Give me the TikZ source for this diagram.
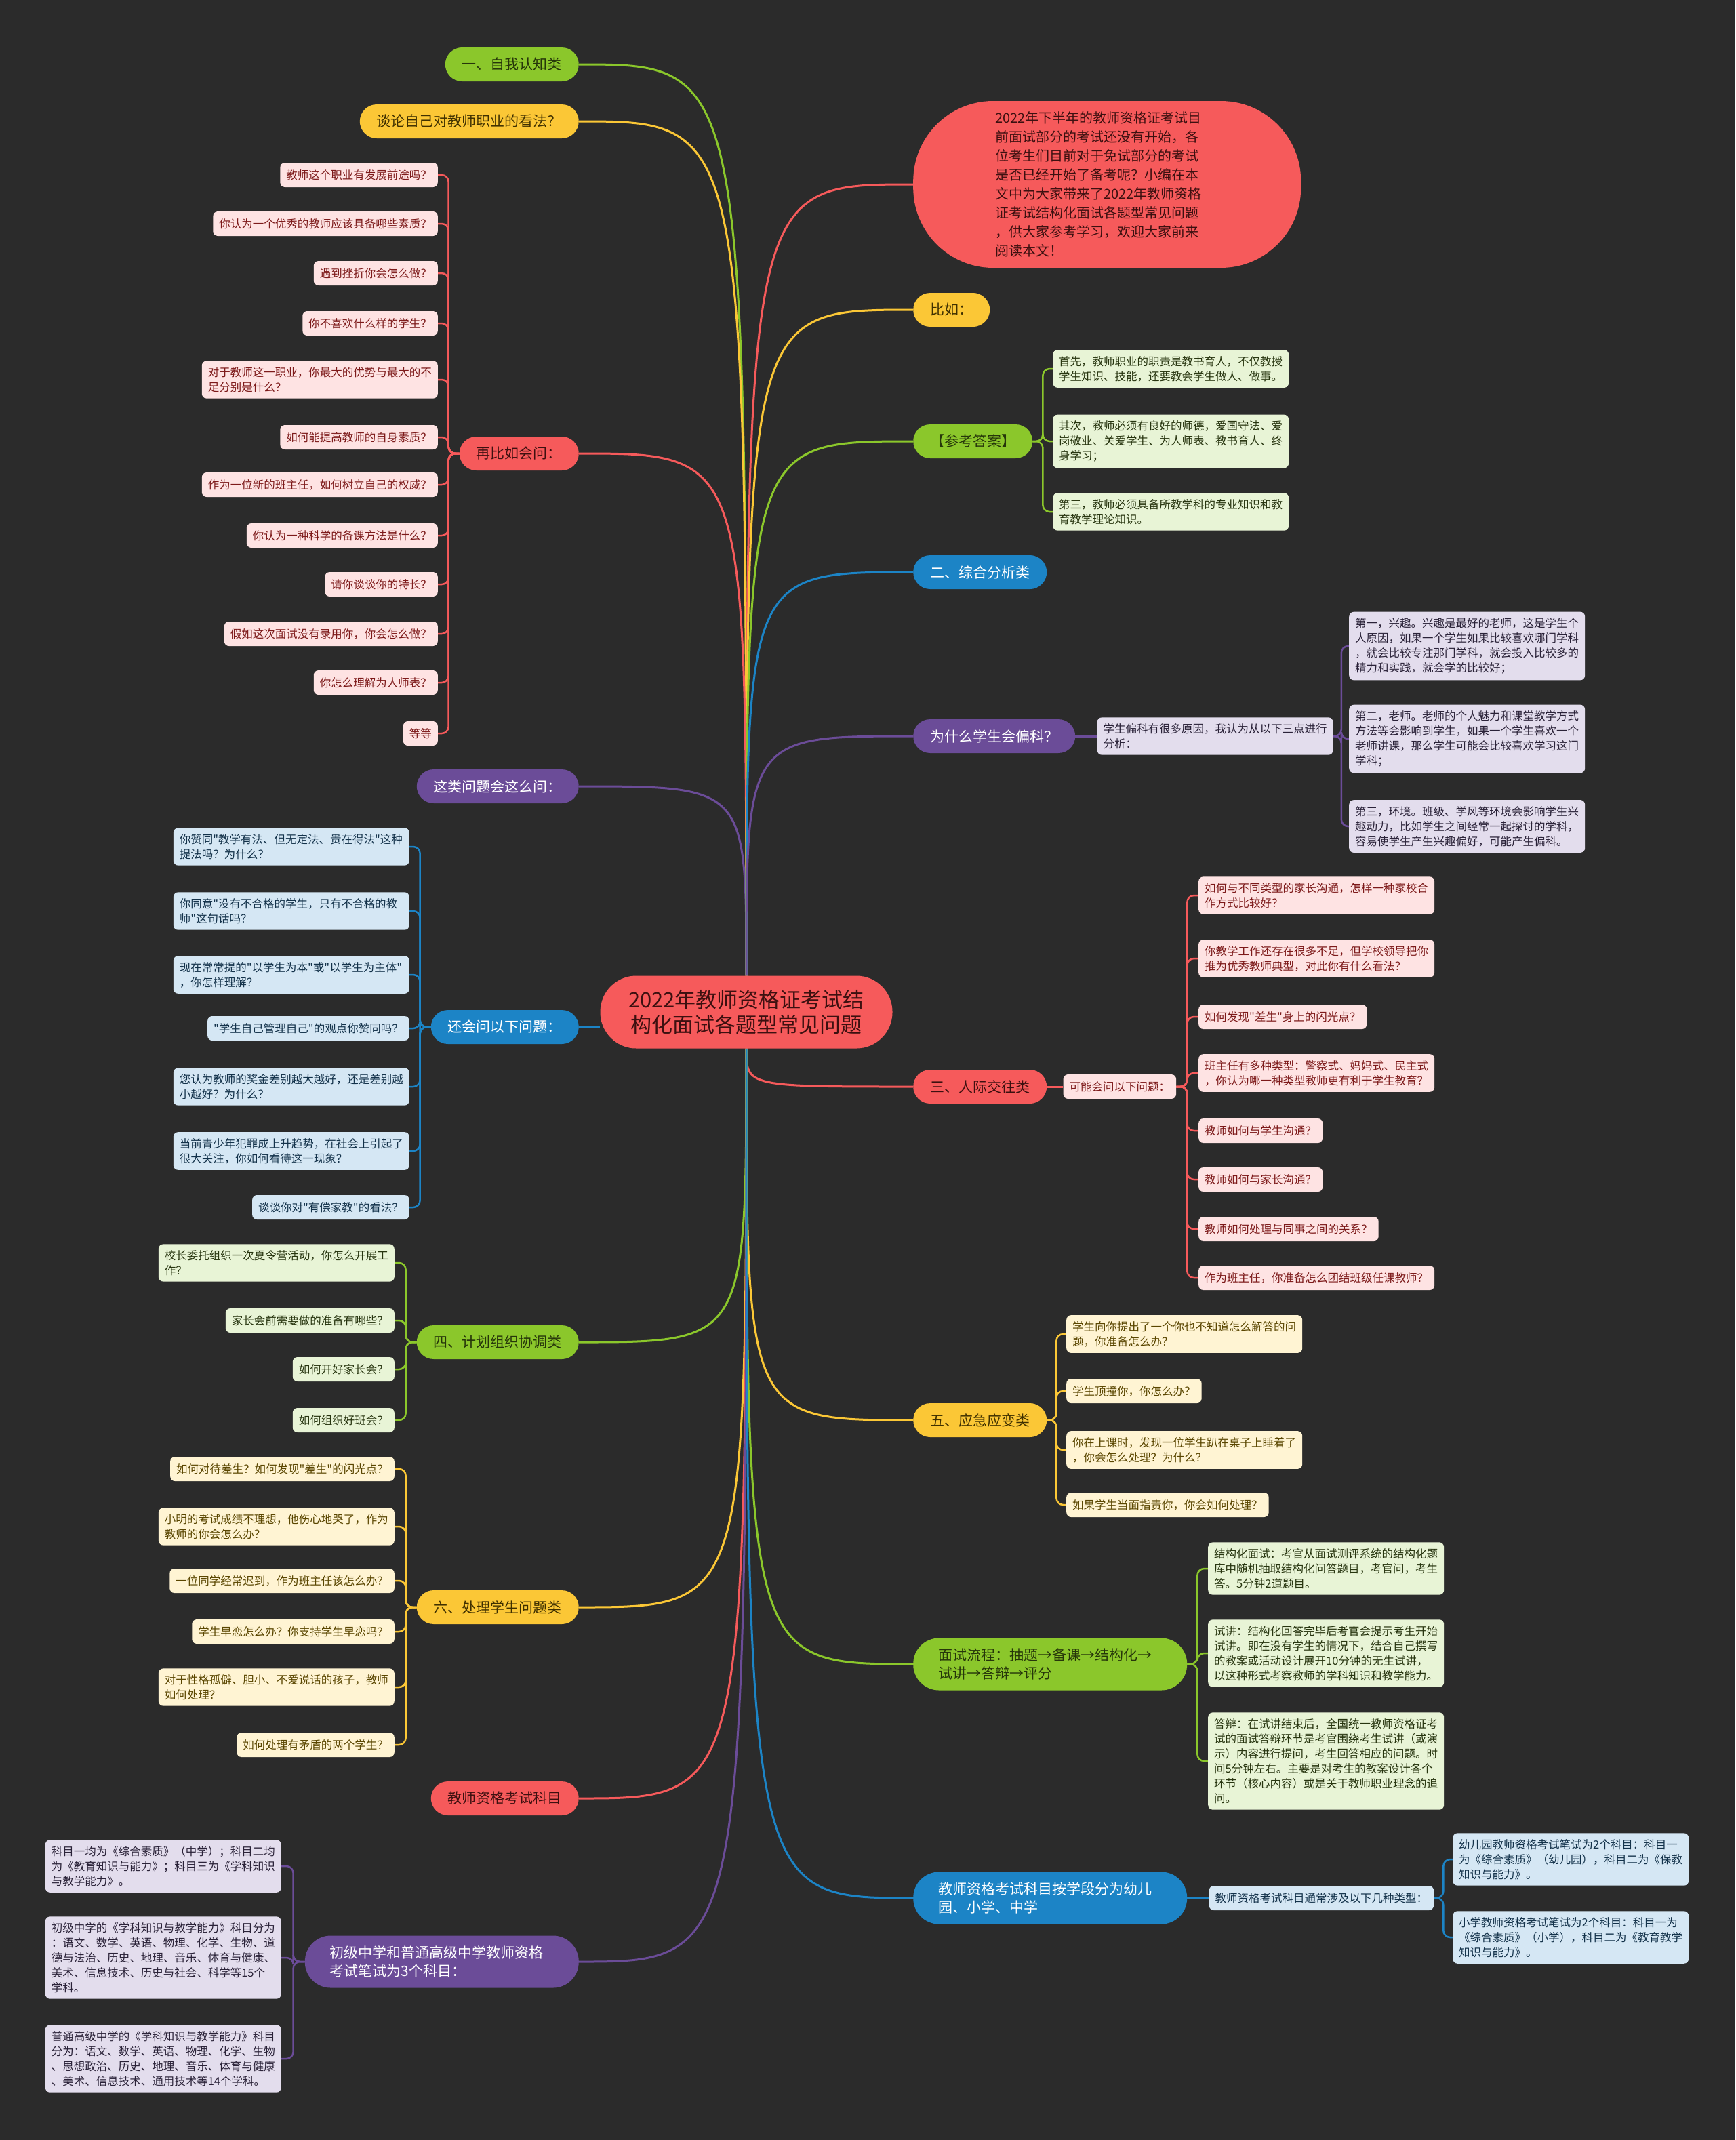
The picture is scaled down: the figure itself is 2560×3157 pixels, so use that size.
\documentclass[tikz,border=0pt]{standalone}
\usepackage{fontspec}
\setmainfont{Noto Sans CJK SC}
\newfontfamily\qfont{Noto Sans CJK SC}
\newcommand\dq{{\qfont"}}
\usetikzlibrary{positioning}

\definecolor{bgc}{HTML}{2B2B2B}
\definecolor{redc}{HTML}{F65A5B}
\definecolor{yellowc}{HTML}{FBC736}
\definecolor{greenc}{HTML}{8BC72B}
\definecolor{bluec}{HTML}{1C84C6}
\definecolor{purplec}{HTML}{6B4C98}
\definecolor{redfg}{HTML}{3D1010}
\definecolor{yellowfg}{HTML}{3F3000}
\definecolor{greenfg}{HTML}{26360A}
\definecolor{pinkbg}{HTML}{FEE3E3}
\definecolor{pinkfg}{HTML}{7D1A1A}
\definecolor{skybg}{HTML}{D5E7F4}
\definecolor{skyfg}{HTML}{13324A}
\definecolor{mintbg}{HTML}{E8F4D6}
\definecolor{mintfg}{HTML}{27350F}
\definecolor{creambg}{HTML}{FFF4D3}
\definecolor{creamfg}{HTML}{5A4600}
\definecolor{lilacbg}{HTML}{E3DDED}
\definecolor{lilacfg}{HTML}{2A2238}

\newcommand\leaffont{\fontsize{16.5pt}{22pt}\selectfont}
\newcommand\branchfont{\fontsize{21pt}{27pt}\selectfont}
\newcommand\notefont{\fontsize{20pt}{28pt}\selectfont}
\newcommand\rootfont{\fontsize{31pt}{37pt}\selectfont}

\pgfdeclarelayer{bg}
\pgfdeclarelayer{links}
\pgfsetlayers{bg,links,main}

\tikzstyle{rootnode} = [rectangle, rounded corners=53pt, fill=redc, text=redfg, minimum width=431pt, minimum height=107pt, align=center, font=\rootfont]
\tikzstyle{note} = [rectangle, rounded corners=118pt, fill=redc, text=redfg, text width=330pt, align=left, inner xsep=121pt, minimum height=246pt, font=\notefont]
\tikzstyle{branch} = [rectangle, rounded corners=25pt, minimum height=50pt, inner xsep=25pt, inner ysep=8pt, font=\branchfont]
\tikzstyle{branch2} = [branch, rounded corners=38pt, minimum height=77pt, inner xsep=37pt, text width=330pt, align=left]
\tikzstyle{greenb} = [fill=greenc, text=greenfg]
\tikzstyle{yellowb} = [fill=yellowc, text=yellowfg]
\tikzstyle{redb} = [fill=redc, text=redfg]
\tikzstyle{blueb} = [fill=bluec, text=white]
\tikzstyle{purpleb} = [fill=purplec, text=white]
\tikzstyle{leaf} = [rectangle, rounded corners=7pt, inner xsep=9pt, inner ysep=9pt, minimum height=36pt, align=left, font=\leaffont]
\tikzstyle{wideleaf} = [text width=330pt]
\tikzstyle{pinkleaf} = [leaf, fill=pinkbg, text=pinkfg]
\tikzstyle{skyleaf} = [leaf, fill=skybg, text=skyfg]
\tikzstyle{mintleaf} = [leaf, fill=mintbg, text=mintfg]
\tikzstyle{creamleaf} = [leaf, fill=creambg, text=creamfg]
\tikzstyle{lilacleaf} = [leaf, fill=lilacbg, text=lilacfg]
\tikzstyle{link} = [draw, line width=3pt]
\tikzstyle{twig} = [draw, line width=2.5pt, rounded corners=10pt]

\begin{document}
\begin{tikzpicture}[x=1pt, y=-1pt]
    \useasboundingbox (0,0) rectangle (2560,3157);
    \begin{pgfonlayer}{bg}
        \fill[bgc] (0,0) rectangle (2560,3157);
    \end{pgfonlayer}

    % Place nodes
    \node [rootnode] (title) at (1101,1493) {2022年教师资格证考试结\\构化面试各题型常见问题};

    % left side
    \node [branch, greenb, anchor=east] (selfcog) at (854,95) {一、自我认知类};
    \node [branch, yellowb, anchor=east] (view) at (854,179) {谈论自己对教师职业的看法？};
    \node [branch, redb, anchor=east] (more) at (854,669) {再比如会问：};
    \node [pinkleaf, anchor=east] (more_1) at (646,258) {教师这个职业有发展前途吗？};
    \node [pinkleaf, anchor=east] (more_2) at (646,330) {你认为一个优秀的教师应该具备哪些素质？};
    \node [pinkleaf, anchor=east] (more_3) at (646,403) {遇到挫折你会怎么做？};
    \node [pinkleaf, anchor=east] (more_4) at (646,477) {你不喜欢什么样的学生？};
    \node [pinkleaf, wideleaf, anchor=east] (more_5) at (646,560) {对于教师这一职业，你最大的优势与最大的不\\足分别是什么？};
    \node [pinkleaf, anchor=east] (more_6) at (646,645) {如何能提高教师的自身素质？};
    \node [pinkleaf, anchor=east] (more_7) at (646,715) {作为一位新的班主任，如何树立自己的权威？};
    \node [pinkleaf, anchor=east] (more_8) at (646,790) {你认为一种科学的备课方法是什么？};
    \node [pinkleaf, anchor=east] (more_9) at (646,862) {请你谈谈你的特长？};
    \node [pinkleaf, anchor=east] (more_10) at (646,935) {假如这次面试没有录用你，你会怎么做？};
    \node [pinkleaf, anchor=east] (more_11) at (646,1007) {你怎么理解为人师表？};
    \node [pinkleaf, anchor=east] (more_12) at (646,1082) {等等};

    \node [branch, purpleb, anchor=east] (ask) at (854,1160) {这类问题会这么问：};
    \node [branch, blueb, anchor=east] (follow) at (854,1515) {还会问以下问题：};
    \node [skyleaf, wideleaf, anchor=east] (follow_1) at (604,1249) {你赞同\dq 教学有法、但无定法、贵在得法\dq 这种\\提法吗？为什么？};
    \node [skyleaf, wideleaf, anchor=east] (follow_2) at (604,1344) {你同意\dq 没有不合格的学生，只有不合格的教\\师\dq 这句话吗？};
    \node [skyleaf, wideleaf, anchor=east] (follow_3) at (604,1438) {现在常常提的\dq 以学生为本\dq 或\dq 以学生为主体\dq\\，你怎样理解？};
    \node [skyleaf, anchor=east] (follow_4) at (604,1517) {\dq 学生自己管理自己\dq 的观点你赞同吗？};
    \node [skyleaf, wideleaf, anchor=east] (follow_5) at (604,1603) {您认为教师的奖金差别越大越好，还是差别越\\小越好？为什么？};
    \node [skyleaf, wideleaf, anchor=east] (follow_6) at (604,1698) {当前青少年犯罪成上升趋势，在社会上引起了\\很大关注，你如何看待这一现象？};
    \node [skyleaf, anchor=east] (follow_7) at (604,1781) {谈谈你对\dq 有偿家教\dq 的看法？};

    \node [branch, greenb, anchor=east] (plan) at (854,1980) {四、计划组织协调类};
    \node [mintleaf, wideleaf, anchor=east] (plan_1) at (582,1863) {校长委托组织一次夏令营活动，你怎么开展工\\作？};
    \node [mintleaf, anchor=east] (plan_2) at (582,1948) {家长会前需要做的准备有哪些？};
    \node [mintleaf, anchor=east] (plan_3) at (582,2020) {如何开好家长会？};
    \node [mintleaf, anchor=east] (plan_4) at (582,2095) {如何组织好班会？};

    \node [branch, yellowb, anchor=east] (handle) at (854,2371) {六、处理学生问题类};
    \node [creamleaf, anchor=east] (handle_1) at (582,2167) {如何对待差生？如何发现\dq 差生\dq 的闪光点？};
    \node [creamleaf, wideleaf, anchor=east] (handle_2) at (582,2252) {小明的考试成绩不理想，他伤心地哭了，作为\\教师的你会怎么办？};
    \node [creamleaf, anchor=east] (handle_3) at (582,2332) {一位同学经常迟到，作为班主任该怎么办？};
    \node [creamleaf, anchor=east] (handle_4) at (582,2407) {学生早恋怎么办？你支持学生早恋吗？};
    \node [creamleaf, wideleaf, anchor=east] (handle_5) at (582,2489) {对于性格孤僻、胆小、不爱说话的孩子，教师\\如何处理？};
    \node [creamleaf, anchor=east] (handle_6) at (582,2574) {如何处理有矛盾的两个学生？};

    \node [branch, redb, anchor=east] (subject) at (854,2653) {教师资格考试科目};
    \node [branch2, purpleb, anchor=east] (middle) at (854,2894) {初级中学和普通高级中学教师资格\\考试笔试为3个科目：};
    \node [lilacleaf, wideleaf, anchor=east] (middle_1) at (415,2753) {科目一均为《综合素质》（中学）；科目二均\\为《教育知识与能力》；科目三为《学科知识\\与教学能力》。};
    \node [lilacleaf, wideleaf, anchor=east] (middle_2) at (415,2888) {初级中学的《学科知识与教学能力》科目分为\\：语文、数学、英语、物理、化学、生物、道\\德与法治、历史、地理、音乐、体育与健康、\\美术、信息技术、历史与社会、科学等15个\\学科。};
    \node [lilacleaf, wideleaf, anchor=east] (middle_3) at (415,3037) {普通高级中学的《学科知识与教学能力》科目\\分为：语文、数学、英语、物理、化学、生物\\、思想政治、历史、地理、音乐、体育与健康\\、美术、信息技术、通用技术等14个学科。};

    % right side
    \node [note, anchor=west] (intro) at (1347,272) {2022年下半年的教师资格证考试目\\前面试部分的考试还没有开始，各\\位考生们目前对于免试部分的考试\\是否已经开始了备考呢？小编在本\\文中为大家带来了2022年教师资格\\证考试结构化面试各题型常见问题\\，供大家参考学习，欢迎大家前来\\阅读本文！};
    \node [branch, yellowb, anchor=west] (like) at (1347,457) {比如：};
    \node [branch, greenb, anchor=west] (answer) at (1347,651) {【参考答案】};
    \node [mintleaf, wideleaf, anchor=west] (answer_1) at (1553,544) {首先，教师职业的职责是教书育人，不仅教授\\学生知识、技能，还要教会学生做人、做事。};
    \node [mintleaf, wideleaf, anchor=west] (answer_2) at (1553,651) {其次，教师必须有良好的师德，爱国守法、爱\\岗敬业、关爱学生、为人师表、教书育人、终\\身学习；};
    \node [mintleaf, wideleaf, anchor=west] (answer_3) at (1553,755) {第三，教师必须具备所教学科的专业知识和教\\育教学理论知识。};

    \node [branch, blueb, anchor=west] (analysis) at (1347,844) {二、综合分析类};
    \node [branch, purpleb, anchor=west] (bias) at (1347,1086) {为什么学生会偏科？};
    \node [lilacleaf, wideleaf, right=32pt of bias] (bias_0) {学生偏科有很多原因，我认为从以下三点进行\\分析：};
    \node [lilacleaf, wideleaf, anchor=west] (bias_1) at (1990,953) {第一，兴趣。兴趣是最好的老师，这是学生个\\人原因，如果一个学生如果比较喜欢哪门学科\\，就会比较专注那门学科，就会投入比较多的\\精力和实践，就会学的比较好；};
    \node [lilacleaf, wideleaf, anchor=west] (bias_2) at (1990,1090) {第二，老师。老师的个人魅力和课堂教学方式\\方法等会影响到学生，如果一个学生喜欢一个\\老师讲课，那么学生可能会比较喜欢学习这门\\学科；};
    \node [lilacleaf, wideleaf, anchor=west] (bias_3) at (1990,1219) {第三，环境。班级、学风等环境会影响学生兴\\趣动力，比如学生之间经常一起探讨的学科，\\容易使学生产生兴趣偏好，可能产生偏科。};

    \node [branch, redb, anchor=west] (social) at (1347,1603) {三、人际交往类};
    \node [pinkleaf, right=24pt of social] (social_0) {可能会问以下问题：};
    \node [pinkleaf, wideleaf, anchor=west] (social_1) at (1768,1321) {如何与不同类型的家长沟通，怎样一种家校合\\作方式比较好？};
    \node [pinkleaf, wideleaf, anchor=west] (social_2) at (1768,1414) {你教学工作还存在很多不足，但学校领导把你\\推为优秀教师典型，对此你有什么看法？};
    \node [pinkleaf, anchor=west] (social_3) at (1768,1500) {如何发现\dq 差生\dq 身上的闪光点？};
    \node [pinkleaf, wideleaf, anchor=west] (social_4) at (1768,1583) {班主任有多种类型：警察式、妈妈式、民主式\\，你认为哪一种类型教师更有利于学生教育？};
    \node [pinkleaf, anchor=west] (social_5) at (1768,1668) {教师如何与学生沟通？};
    \node [pinkleaf, anchor=west] (social_6) at (1768,1740) {教师如何与家长沟通？};
    \node [pinkleaf, anchor=west] (social_7) at (1768,1813) {教师如何处理与同事之间的关系？};
    \node [pinkleaf, anchor=west] (social_8) at (1768,1885) {作为班主任，你准备怎么团结班级任课教师？};

    \node [branch, yellowb, anchor=west] (emerg) at (1347,2095) {五、应急应变类};
    \node [creamleaf, wideleaf, anchor=west] (emerg_1) at (1573,1968) {学生向你提出了一个你也不知道怎么解答的问\\题，你准备怎么办？};
    \node [creamleaf, anchor=west] (emerg_2) at (1573,2052) {学生顶撞你，你怎么办？};
    \node [creamleaf, wideleaf, anchor=west] (emerg_3) at (1573,2139) {你在上课时，发现一位学生趴在桌子上睡着了\\，你会怎么处理？为什么？};
    \node [creamleaf, anchor=west] (emerg_4) at (1573,2220) {如果学生当面指责你，你会如何处理？};

    \node [branch2, greenb, anchor=west] (flow) at (1347,2455) {面试流程：抽题→备课→结构化→\\试讲→答辩→评分};
    \node [mintleaf, wideleaf, anchor=west] (flow_1) at (1782,2314) {结构化面试：考官从面试测评系统的结构化题\\库中随机抽取结构化问答题目，考官问，考生\\答。5分钟2道题目。};
    \node [mintleaf, wideleaf, anchor=west] (flow_2) at (1782,2439) {试讲：结构化回答完毕后考官会提示考生开始\\试讲。即在没有学生的情况下，结合自己撰写\\的教案或活动设计展开10分钟的无生试讲，\\以这种形式考察教师的学科知识和教学能力。};
    \node [mintleaf, wideleaf, anchor=west] (flow_3) at (1782,2598) {答辩：在试讲结束后，全国统一教师资格证考\\试的面试答辩环节是考官围绕考生试讲（或演\\示）内容进行提问，考生回答相应的问题。时\\间5分钟左右。主要是对考生的教案设计各个\\环节（核心内容）或是关于教师职业理念的追\\问。};

    \node [branch2, blueb, anchor=west] (stage) at (1347,2800) {教师资格考试科目按学段分为幼儿\\园、小学、中学};
    \node [skyleaf, right=32pt of stage] (stage_0) {教师资格考试科目通常涉及以下几种类型：};
    \node [skyleaf, wideleaf, anchor=west] (stage_1) at (2143,2743) {幼儿园教师资格考试笔试为2个科目：科目一\\为《综合素质》（幼儿园），科目二为《保教\\知识与能力》。};
    \node [skyleaf, wideleaf, anchor=west] (stage_2) at (2143,2858) {小学教师资格考试笔试为2个科目：科目一为\\《综合素质》（小学），科目二为《教育教学\\知识与能力》。};

    % Draw edges
    \begin{pgfonlayer}{links}
    \draw [link, greenc] (title.north) .. controls (title.north |- selfcog.east) .. (selfcog.east);
    \draw [link, yellowc] (title.north) .. controls (title.north |- view.east) .. (view.east);
    \draw [link, redc] (title.north) .. controls (title.north |- more.east) .. (more.east);
    \draw [link, purplec] (title.north) .. controls (title.north |- ask.east) .. (ask.east);
    \draw [link, bluec] (follow.east) -- (follow.east -| title.west);
    \draw [link, greenc] (title.south) .. controls (title.south |- plan.east) .. (plan.east);
    \draw [link, yellowc] (title.south) .. controls (title.south |- handle.east) .. (handle.east);
    \draw [link, redc] (title.south) .. controls (title.south |- subject.east) .. (subject.east);
    \draw [link, purplec] (title.south) .. controls (title.south |- middle.east) .. (middle.east);
    \draw [link, redc] (title.north) .. controls (title.north |- intro.west) .. (intro.west);
    \draw [link, yellowc] (title.north) .. controls (title.north |- like.west) .. (like.west);
    \draw [link, greenc] (title.north) .. controls (title.north |- answer.west) .. (answer.west);
    \draw [link, bluec] (title.north) .. controls (title.north |- analysis.west) .. (analysis.west);
    \draw [link, purplec] (title.north) .. controls (title.north |- bias.west) .. (bias.west);
    \draw [link, redc] (title.south) .. controls (title.south |- social.west) .. (social.west);
    \draw [link, yellowc] (title.south) .. controls (title.south |- emerg.west) .. (emerg.west);
    \draw [link, greenc] (title.south) .. controls (title.south |- flow.west) .. (flow.west);
    \draw [link, bluec] (title.south) .. controls (title.south |- stage.west) .. (stage.west);

    \draw [twig, redc] (more.west) -- ++(-16,0) |- (more_1.east);
    \draw [twig, redc] (more.west) -- ++(-16,0) |- (more_2.east);
    \draw [twig, redc] (more.west) -- ++(-16,0) |- (more_3.east);
    \draw [twig, redc] (more.west) -- ++(-16,0) |- (more_4.east);
    \draw [twig, redc] (more.west) -- ++(-16,0) |- (more_5.east);
    \draw [twig, redc] (more.west) -- ++(-16,0) |- (more_6.east);
    \draw [twig, redc] (more.west) -- ++(-16,0) |- (more_7.east);
    \draw [twig, redc] (more.west) -- ++(-16,0) |- (more_8.east);
    \draw [twig, redc] (more.west) -- ++(-16,0) |- (more_9.east);
    \draw [twig, redc] (more.west) -- ++(-16,0) |- (more_10.east);
    \draw [twig, redc] (more.west) -- ++(-16,0) |- (more_11.east);
    \draw [twig, redc] (more.west) -- ++(-16,0) |- (more_12.east);

    \draw [twig, bluec] (follow.west) -- ++(-16,0) |- (follow_1.east);
    \draw [twig, bluec] (follow.west) -- ++(-16,0) |- (follow_2.east);
    \draw [twig, bluec] (follow.west) -- ++(-16,0) |- (follow_3.east);
    \draw [twig, bluec] (follow.west) -- ++(-16,0) |- (follow_4.east);
    \draw [twig, bluec] (follow.west) -- ++(-16,0) |- (follow_5.east);
    \draw [twig, bluec] (follow.west) -- ++(-16,0) |- (follow_6.east);
    \draw [twig, bluec] (follow.west) -- ++(-16,0) |- (follow_7.east);

    \draw [twig, greenc] (plan.west) -- ++(-16,0) |- (plan_1.east);
    \draw [twig, greenc] (plan.west) -- ++(-16,0) |- (plan_2.east);
    \draw [twig, greenc] (plan.west) -- ++(-16,0) |- (plan_3.east);
    \draw [twig, greenc] (plan.west) -- ++(-16,0) |- (plan_4.east);

    \draw [twig, yellowc] (handle.west) -- ++(-16,0) |- (handle_1.east);
    \draw [twig, yellowc] (handle.west) -- ++(-16,0) |- (handle_2.east);
    \draw [twig, yellowc] (handle.west) -- ++(-16,0) |- (handle_3.east);
    \draw [twig, yellowc] (handle.west) -- ++(-16,0) |- (handle_4.east);
    \draw [twig, yellowc] (handle.west) -- ++(-16,0) |- (handle_5.east);
    \draw [twig, yellowc] (handle.west) -- ++(-16,0) |- (handle_6.east);

    \draw [twig, purplec] (middle.west) -- ++(-17,0) |- (middle_1.east);
    \draw [twig, purplec] (middle.west) -- ++(-17,0) |- (middle_2.east);
    \draw [twig, purplec] (middle.west) -- ++(-17,0) |- (middle_3.east);

    \draw [twig, greenc] (answer.east) -- ++(15,0) |- (answer_1.west);
    \draw [twig, greenc] (answer.east) -- ++(15,0) |- (answer_2.west);
    \draw [twig, greenc] (answer.east) -- ++(15,0) |- (answer_3.west);

    \draw [link, purplec] (bias) -- (bias_0);
    \draw [twig, purplec] (bias_0.east) -- ++(12,0) |- (bias_1.west);
    \draw [twig, purplec] (bias_0.east) -- ++(12,0) |- (bias_2.west);
    \draw [twig, purplec] (bias_0.east) -- ++(12,0) |- (bias_3.west);

    \draw [link, redc] (social) -- (social_0);
    \draw [twig, redc] (social_0.east) -- ++(16,0) |- (social_1.west);
    \draw [twig, redc] (social_0.east) -- ++(16,0) |- (social_2.west);
    \draw [twig, redc] (social_0.east) -- ++(16,0) |- (social_3.west);
    \draw [twig, redc] (social_0.east) -- ++(16,0) |- (social_4.west);
    \draw [twig, redc] (social_0.east) -- ++(16,0) |- (social_5.west);
    \draw [twig, redc] (social_0.east) -- ++(16,0) |- (social_6.west);
    \draw [twig, redc] (social_0.east) -- ++(16,0) |- (social_7.west);
    \draw [twig, redc] (social_0.east) -- ++(16,0) |- (social_8.west);

    \draw [twig, yellowc] (emerg.east) -- ++(14,0) |- (emerg_1.west);
    \draw [twig, yellowc] (emerg.east) -- ++(14,0) |- (emerg_2.west);
    \draw [twig, yellowc] (emerg.east) -- ++(14,0) |- (emerg_3.west);
    \draw [twig, yellowc] (emerg.east) -- ++(14,0) |- (emerg_4.west);

    \draw [twig, greenc] (flow.east) -- ++(15,0) |- (flow_1.west);
    \draw [twig, greenc] (flow.east) -- ++(15,0) |- (flow_2.west);
    \draw [twig, greenc] (flow.east) -- ++(15,0) |- (flow_3.west);

    \draw [link, bluec] (stage) -- (stage_0);
    \draw [twig, bluec] (stage_0.east) -- ++(14,0) |- (stage_1.west);
    \draw [twig, bluec] (stage_0.east) -- ++(14,0) |- (stage_2.west);
    \end{pgfonlayer}
\end{tikzpicture}
\end{document}
